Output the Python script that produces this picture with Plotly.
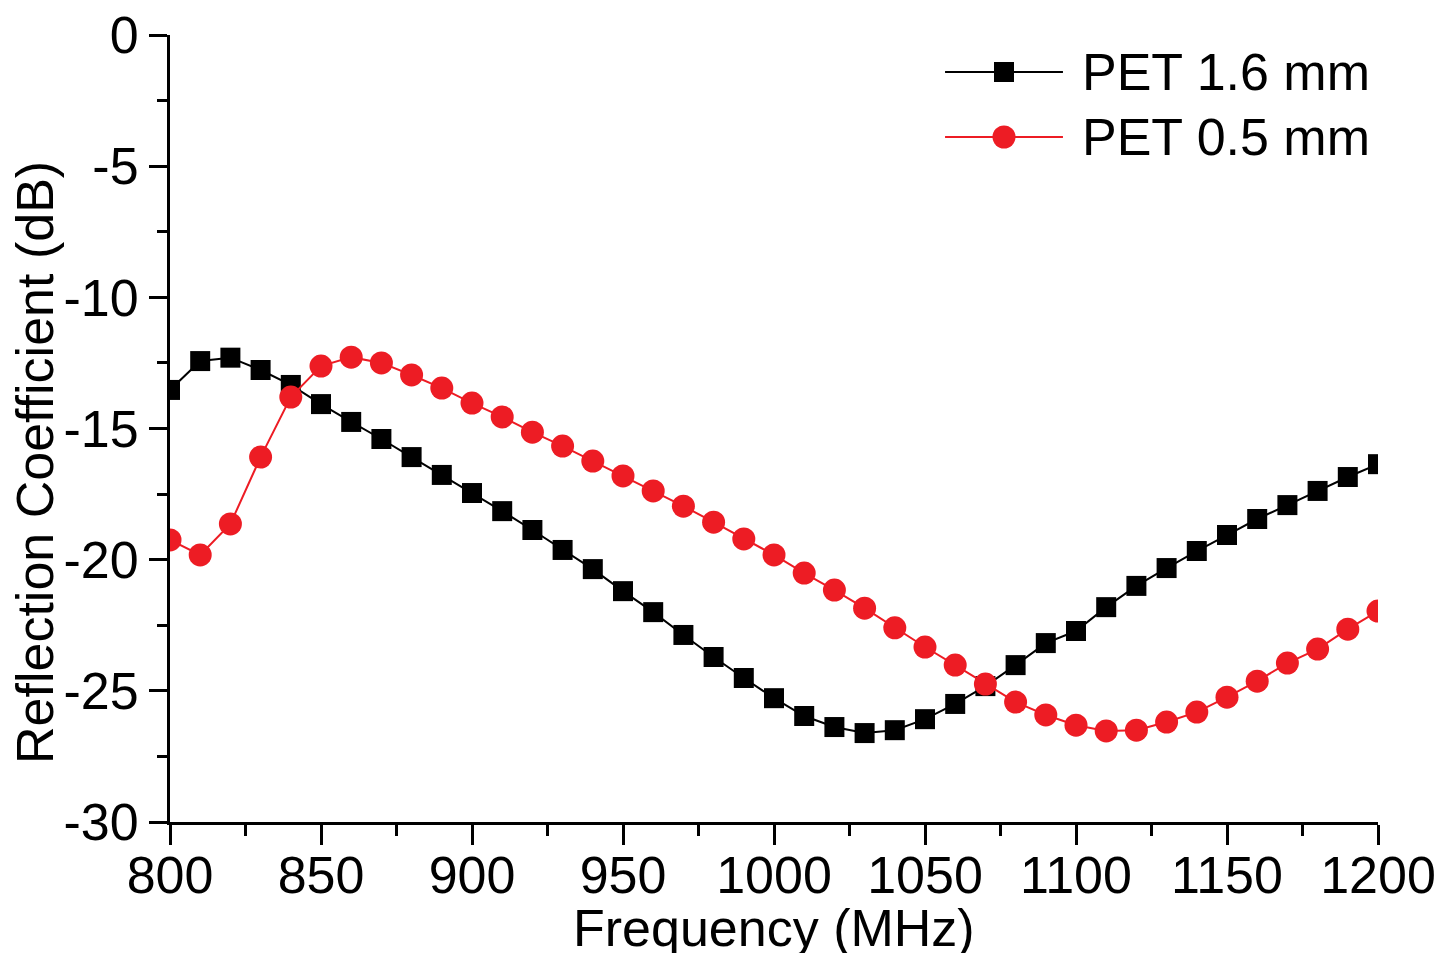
import plotly.graph_objects as go

freq = list(range(800, 1201, 10))

pet_16 = [-13.53, -12.43, -12.30, -12.77, -13.34, -14.07, -14.75, -15.40, -16.09, -16.77,
          -17.46, -18.15, -18.87, -19.63, -20.36, -21.20, -22.00, -22.87, -23.71, -24.51,
          -25.28, -25.96, -26.38, -26.61, -26.50, -26.08, -25.50, -24.82, -24.02, -23.18,
          -22.72, -21.81, -21.00, -20.32, -19.67, -19.06, -18.45, -17.92, -17.38, -16.85,
          -16.36]

pet_05 = [-19.25, -19.82, -18.64, -16.09, -13.80, -12.62, -12.28, -12.50, -12.96, -13.46,
          -14.03, -14.56, -15.14, -15.67, -16.24, -16.81, -17.38, -17.96, -18.57, -19.21,
          -19.82, -20.51, -21.16, -21.85, -22.60, -23.33, -24.02, -24.74, -25.43, -25.92,
          -26.31, -26.53, -26.50, -26.19, -25.81, -25.24, -24.63, -23.94, -23.41, -22.65,
          -21.96]

series_names = ["PET 1.6 mm", "PET 0.5 mm"]
x_ticks = [800, 850, 900, 950, 1000, 1050, 1100, 1150, 1200]
y_ticks = [0, -5, -10, -15, -20, -25, -30]

BLACK = "#000000"
RED = "#ED1C24"
FONT = "Arial, Liberation Sans, sans-serif"
FS = 52

fig = go.Figure()
fig.add_trace(go.Scatter(x=freq, y=pet_16, mode="lines+markers", name=series_names[0],
                         line=dict(color=BLACK, width=2),
                         marker=dict(symbol="square", size=20, color=BLACK),
                         showlegend=False))
fig.add_trace(go.Scatter(x=freq, y=pet_05, mode="lines+markers", name=series_names[1],
                         line=dict(color=RED, width=2),
                         marker=dict(symbol="circle", size=23, color=RED),
                         showlegend=False))

# custom legend on an overlay axis in [0,1] space
leg_rows = [0.953, 0.8704]
leg_x0, leg_x1, leg_xm, leg_text_x = 0.6416, 0.7392, 0.6904, 0.7533
styles = [(BLACK, "square", 20), (RED, "circle", 23)]
for (col, sym, sz), yy, name in zip(styles, leg_rows, series_names):
    fig.add_trace(go.Scatter(x=[leg_x0, leg_x1], y=[yy, yy], mode="lines",
                             line=dict(color=col, width=2), xaxis="x2", yaxis="y2",
                             showlegend=False, hoverinfo="skip", cliponaxis=False))
    fig.add_trace(go.Scatter(x=[leg_xm], y=[yy], mode="markers",
                             marker=dict(symbol=sym, size=sz, color=col), xaxis="x2", yaxis="y2",
                             showlegend=False, hoverinfo="skip", cliponaxis=False))
    fig.add_annotation(x=leg_text_x, y=yy, xref="paper", yref="paper", text=name,
                       showarrow=False, xanchor="left", yanchor="middle",
                       font=dict(family=FONT, size=FS, color="black"))

# y-axis title
fig.add_annotation(x=-0.1118, y=0.4574, xref="paper", yref="paper",
                   text="Reflection Coefficient (dB)", textangle=-90, showarrow=False,
                   xanchor="center", yanchor="middle",
                   font=dict(family=FONT, size=FS, color="black"))
# x-axis title
fig.add_annotation(x=0.5, y=-0.135, xref="paper", yref="paper",
                   text="Frequency (MHz)", showarrow=False,
                   xanchor="center", yanchor="middle",
                   font=dict(family=FONT, size=FS, color="black"))

fig.update_layout(
    width=1455, height=953,
    margin=dict(l=170, r=77, t=35, b=131),
    paper_bgcolor="white", plot_bgcolor="white",
    font=dict(family=FONT, size=FS, color="black"),
    xaxis=dict(range=[800, 1200], tickvals=x_ticks, ticktext=[str(v) for v in x_ticks],
               automargin=False,
               showgrid=False, zeroline=False, showline=True, linecolor="black", linewidth=3,
               ticks="outside", ticklen=20, tickwidth=3, tickcolor="black",
               ticklabelstandoff=-14,
               minor=dict(dtick=25, tick0=800, ticks="outside", ticklen=11, tickwidth=3,
                          tickcolor="black", showgrid=False),
               tickfont=dict(family=FONT, size=FS, color="black")),
    yaxis=dict(range=[-30, 0], tickvals=y_ticks, ticktext=[str(v) for v in y_ticks],
               automargin=False,
               showgrid=False, zeroline=False, showline=True, linecolor="black", linewidth=3,
               ticks="outside", ticklen=18, tickwidth=3, tickcolor="black",
               minor=dict(dtick=2.5, tick0=0, ticks="outside", ticklen=10, tickwidth=3,
                          tickcolor="black", showgrid=False),
               tickfont=dict(family=FONT, size=FS, color="black")),
    xaxis2=dict(overlaying="x", range=[0, 1], visible=False, automargin=False),
    yaxis2=dict(overlaying="y", range=[0, 1], visible=False, automargin=False),
)

fig.write_html("out.html")
